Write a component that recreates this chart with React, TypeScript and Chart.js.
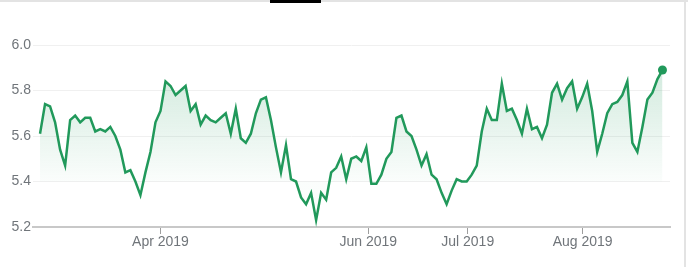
import React, { useEffect, useRef } from 'react';
import { Chart, registerables } from 'chart.js';

Chart.register(...registerables);

// Daily closing values (trading days)
const values: number[] = [
  5.61, 5.74, 5.73, 5.66, 5.54, 5.47, 5.67, 5.69, 5.66, 5.68,
  5.68, 5.62, 5.63, 5.62, 5.64, 5.60, 5.54, 5.44, 5.45, 5.40,
  5.34, 5.44, 5.53, 5.66, 5.71, 5.84, 5.82, 5.78, 5.80, 5.82,
  5.71, 5.74, 5.65, 5.69, 5.67, 5.66, 5.68, 5.70, 5.61, 5.72,
  5.59, 5.57, 5.61, 5.70, 5.76, 5.77, 5.67, 5.55, 5.44, 5.56,
  5.41, 5.40, 5.33, 5.30, 5.35, 5.23, 5.35, 5.32, 5.44, 5.46,
  5.51, 5.41, 5.50, 5.51, 5.49, 5.55, 5.39, 5.39, 5.43, 5.50,
  5.53, 5.68, 5.69, 5.62, 5.60, 5.54, 5.47, 5.52, 5.43, 5.41,
  5.35, 5.30, 5.36, 5.41, 5.40, 5.40, 5.43, 5.47, 5.62, 5.72,
  5.67, 5.67, 5.83, 5.71, 5.72, 5.67, 5.61, 5.72, 5.63, 5.64,
  5.59, 5.65, 5.79, 5.83, 5.76, 5.81, 5.84, 5.72, 5.77, 5.83,
  5.71, 5.53, 5.61, 5.70, 5.74, 5.75, 5.78, 5.84, 5.57, 5.53,
  5.64, 5.76, 5.79, 5.85, 5.89,
];

const monthTickPositions: number[] = [24, 65.4, 85.2, 108.1];
const monthTickLabels: string[] = ['Apr 2019', 'Jun 2019', 'Jul 2019', 'Aug 2019'];

const yMin = 5.2;
const yMax = 6.0;
const yStep = 0.2;
const fillBase = 5.4;

const GREEN = '#21995b';

export default function App() {
  const canvasRef = useRef<HTMLCanvasElement | null>(null);

  useEffect(() => {
    const canvas = canvasRef.current;
    if (!canvas) return;
    const lastIndex = values.length - 1;
    const chart = new Chart(canvas, {
      type: 'line',
      data: {
        datasets: [
          {
            data: values.map((v, i) => ({ x: i, y: v })),
            borderColor: GREEN,
            borderWidth: 2.5,
            tension: 0,
            fill: { value: fillBase },
            backgroundColor: (ctx: any) => {
              const ch = ctx.chart;
              const area = ch.chartArea;
              if (!area) return 'rgba(33,153,91,0.1)';
              const bottom = ch.scales.y.getPixelForValue(fillBase);
              const g = ch.ctx.createLinearGradient(0, area.top, 0, bottom);
              g.addColorStop(0, 'rgba(33,153,91,0.24)');
              g.addColorStop(1, 'rgba(33,153,91,0.02)');
              return g;
            },
            pointRadius: (ctx: any) => (ctx.dataIndex === lastIndex ? 4.5 : 0),
            pointHoverRadius: (ctx: any) => (ctx.dataIndex === lastIndex ? 4.5 : 0),
            pointBackgroundColor: GREEN,
            pointBorderColor: GREEN,
            pointBorderWidth: 0,
            clip: false as any,
          },
        ],
      },
      options: {
        animation: false,
        responsive: false,
        devicePixelRatio: 1,
        layout: { padding: { top: 45, right: 18, left: 0, bottom: 0 } },
        plugins: { legend: { display: false }, tooltip: { enabled: false } },
        scales: {
          x: {
            type: 'linear',
            min: -1.4,
            max: values.length - 1 + 1.5,
            afterBuildTicks: (s: any) => {
              s.ticks = monthTickPositions.map((v) => ({ value: v }));
            },
            afterFit: (s: any) => {
              s.height = 40;
            },
            ticks: {
              autoSkip: false,
              maxRotation: 0,
              padding: 0,
              color: '#70757a',
              font: { family: 'Arial, "Liberation Sans", sans-serif', size: 14 },
              callback: (_v: any, idx: number) => monthTickLabels[idx],
            },
            grid: {
              drawOnChartArea: false,
              drawTicks: true,
              tickLength: 7,
              tickColor: '#9e9e9e',
              tickWidth: 1,
            },
            border: { display: true, color: '#c8c8c8', width: 2 },
          },
          y: {
            min: yMin,
            max: yMax,
            afterFit: (s: any) => {
              s.width = 33;
            },
            ticks: {
              stepSize: yStep,
              padding: 2,
              color: '#70757a',
              font: { family: 'Arial, "Liberation Sans", sans-serif', size: 14 },
              callback: (v: any) => Number(v).toFixed(1),
            },
            grid: { color: '#f0f0f0', lineWidth: 1, drawTicks: false },
            border: { display: false },
          },
        },
      },
    } as any);
    return () => chart.destroy();
  }, []);

  return (
    <div style={{ position: 'fixed', left: 0, top: 0, width: 688, height: 267, background: '#fff', overflow: 'hidden' }}>
      <canvas ref={canvasRef} width={688} height={267} style={{ position: 'absolute', left: 0, top: 0, width: 688, height: 267 }} />
      <div style={{ position: 'absolute', left: 0, top: 0, width: 688, height: 2, background: '#e3e3e3' }} />
      <div style={{ position: 'absolute', left: 270, top: 0, width: 51, height: 3, background: '#000' }} />
      <div style={{ position: 'absolute', left: 684, top: 0, width: 2, height: 267, background: '#e3e3e3' }} />
    </div>
  );
}
